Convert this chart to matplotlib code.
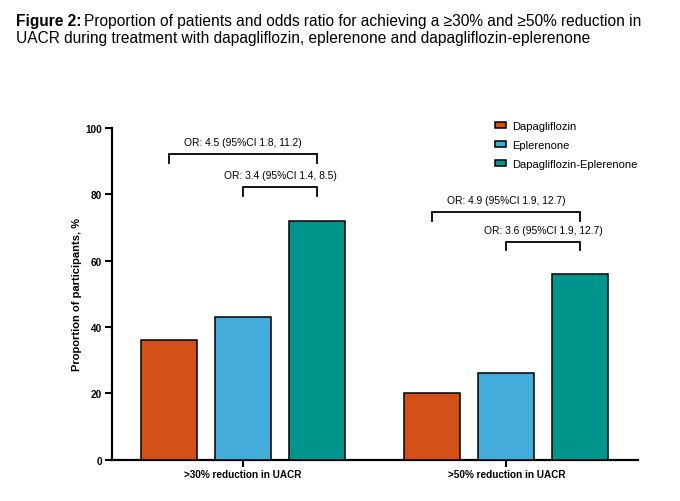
import numpy as np
import matplotlib
matplotlib.use('Agg')
import matplotlib.pyplot as plt

plt.rcParams['font.family'] = ['Liberation Sans', 'DejaVu Sans']

groups = ['>30% reduction in UACR', '>50% reduction in UACR']
treatments = ['Dapagliflozin', 'Eplerenone', 'Dapagliflozin-Eplerenone']
dapa = [36, 20]
eple = [43, 26]
combo = [72, 56]
colors = ['#D35019', '#43ACDA', '#00958C']

# bracket: group, first bar, second bar, level, label
brackets = [
    (0, 0, 2, 92, 'OR: 4.5 (95%CI 1.8, 11.2)'),
    (0, 1, 2, 82, 'OR: 3.4 (95%CI 1.4, 8.5)'),
    (1, 0, 2, 74.5, 'OR: 4.9 (95%CI 1.9, 12.7)'),
    (1, 1, 2, 65.6, 'OR: 3.6 (95%CI 1.9, 12.7)'),
]

fig = plt.figure(figsize=(6.8, 5.02), dpi=100)
ax = fig.add_axes([0.164, 0.0823, 0.774, 0.6613])

x = np.arange(len(groups))
step = 0.282
w = 0.213
series = [dapa, eple, combo]
for i, vals in enumerate(series):
    ax.bar(x + (i - 1) * step, vals, w, color=colors[i], edgecolor='black',
           linewidth=1.1, label=treatments[i], zorder=3)

for g, a, b, lev, lab in brackets:
    x1 = g + (a - 1) * step
    x2 = g + (b - 1) * step
    ax.plot([x1, x1, x2, x2], [lev - 2.5, lev, lev, lev - 2.5], color='black',
            lw=1.3, clip_on=False, solid_joinstyle='miter')
    ax.text((x1 + x2) / 2, lev + 2.2, lab, ha='center', va='bottom', fontsize=7.4)

ax.set_xlim(-0.5, 1.5)
ax.set_ylim(0, 100)
ax.set_yticks([0, 20, 40, 60, 80, 100])
ax.set_xticks(x)
ax.set_xticklabels(groups, fontweight='bold', fontsize=7.2)
for t in ax.get_yticklabels():
    t.set_fontweight('bold')
    t.set_fontsize(7.2)
ax.tick_params(axis='both', direction='out', length=5, width=1.5, pad=2)
ax.set_ylabel('Proportion of participants, %', fontweight='bold', fontsize=8, labelpad=2)
for s in ['top', 'right']:
    ax.spines[s].set_visible(False)
for s in ['left', 'bottom']:
    ax.spines[s].set_linewidth(1.6)

ax.legend(loc='upper left', bbox_to_anchor=(495 / 680, 1 - 122 / 502),
          bbox_transform=fig.transFigure, frameon=False, fontsize=8,
          handlelength=0.95, handleheight=0.55, handletextpad=0.55,
          labelspacing=0.8, borderaxespad=0, borderpad=0)

# title with bold prefix
r = fig.canvas.get_renderer()
t1 = fig.text(16 / 680, 1 - 26 / 502, 'Figure 2:', fontweight='bold', fontsize=11.2,
              va='baseline')
bb = t1.get_window_extent(renderer=r)
fig.text(bb.x1 / (6.8 * 100) + 3 / 680, 1 - 26 / 502,
         'Proportion of patients and odds ratio for achieving a \u226530% and \u226550% reduction in',
         fontsize=11.2, va='baseline')
fig.text(16 / 680, 1 - 43 / 502,
         'UACR during treatment with dapagliflozin, eplerenone and dapagliflozin-eplerenone',
         fontsize=11.2, va='baseline')

fig.savefig('out.png', dpi=100)
